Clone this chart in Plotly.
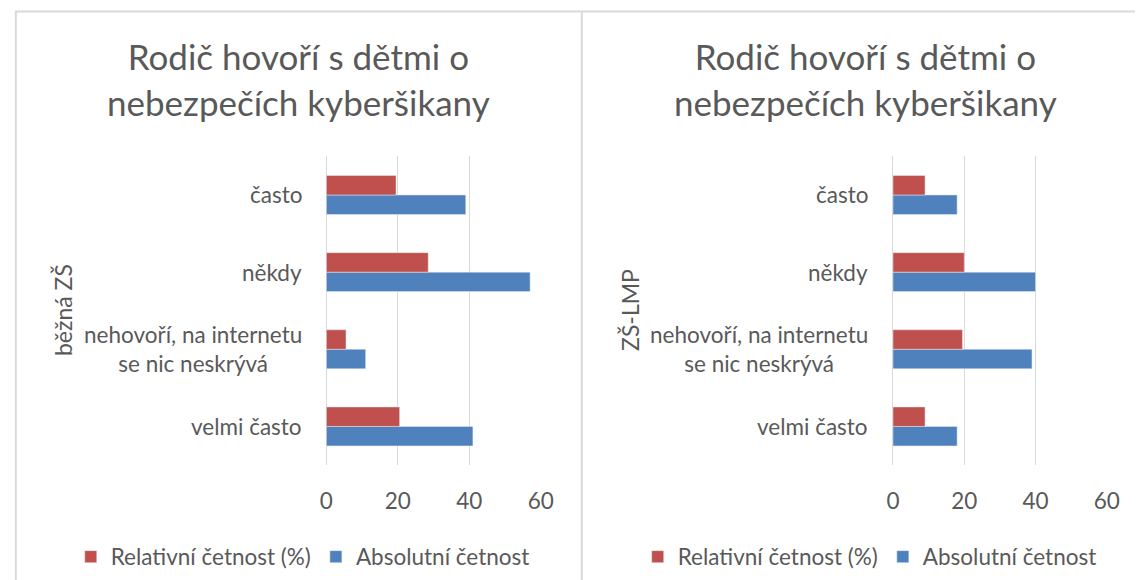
import plotly.graph_objects as go

# ---- data ----
categories = ["velmi často", "nehovoří, na internetu<br>se nic neskrývá", "někdy", "často"]
series_names = ["Relativní četnost (%)", "Absolutní četnost"]
bezna_relativni = [20.5, 5.5, 28.5, 19.5]
bezna_absolutni = [41, 11, 57, 39]
lmp_relativni = [9, 19.5, 20, 9]
lmp_absolutni = [18, 39, 40, 18]
panel_titles = ["Rodič hovoří s dětmi o<br>nebezpečích kyberšikany",
                "Rodič hovoří s dětmi o<br>nebezpečích kyberšikany"]
panel_axis_titles = ["běžná ZŠ", "ZŠ-LMP"]
x_ticks = [0, 20, 40, 60]

RED = "#C0504D"
BLUE = "#4F81BD"
TXT = "#595959"
GRID = "#D9D9D9"
FONT = "Lato"

W, H = 1148, 580


def px(rx):
    return rx / W


def py(ry):
    return 1 - ry / H


fig = go.Figure()

# left panel
fig.add_trace(go.Bar(y=categories, x=bezna_absolutni, orientation="h", name=series_names[1],
                     marker=dict(color=BLUE), xaxis="x", yaxis="y", legend="legend", legendrank=2))
fig.add_trace(go.Bar(y=categories, x=bezna_relativni, orientation="h", name=series_names[0],
                     marker=dict(color=RED), xaxis="x", yaxis="y", legend="legend", legendrank=1))
# right panel
fig.add_trace(go.Bar(y=categories, x=lmp_absolutni, orientation="h", name=series_names[1],
                     marker=dict(color=BLUE), xaxis="x2", yaxis="y2", legend="legend2", legendrank=2))
fig.add_trace(go.Bar(y=categories, x=lmp_relativni, orientation="h", name=series_names[0],
                     marker=dict(color=RED), xaxis="x2", yaxis="y2", legend="legend2", legendrank=1))

ydom = [py(465), py(156.4)]
xaxis_common = dict(range=[0, 60], tickvals=x_ticks, showgrid=True, gridcolor=GRID, gridwidth=1,
                    zeroline=True, zerolinecolor=GRID, zerolinewidth=1, showline=False,
                    ticks="", ticklabelstandoff=20,
                    tickfont=dict(family=FONT, size=22.5, color=TXT), fixedrange=True)
yaxis_common = dict(type="category", categoryorder="array", categoryarray=categories,
                    showticklabels=False, showgrid=False, zeroline=False, showline=False,
                    ticks="", domain=ydom, fixedrange=True)

legend_common = dict(orientation="h", yanchor="middle", xanchor="center", y=py(557),
                     font=dict(family=FONT, size=22.5, color=TXT), bgcolor="rgba(0,0,0,0)",
                     itemwidth=30, traceorder="normal")

annotations = []
panels = [
    dict(xref="x", yref="y", title_x=297, axt_x=57, lab_x=-0.105),
    dict(xref="x2", yref="y2", title_x=874, axt_x=634, lab_x=-0.109),
]
for i, p in enumerate(panels):
    annotations.append(dict(text=panel_titles[i], x=px(p["title_x"]), y=py(79), xref="paper", yref="paper",
                            xanchor="center", yanchor="middle", showarrow=False, align="center",
                            font=dict(family=FONT, size=35, color=TXT)))
    annotations.append(dict(text=panel_axis_titles[i], x=px(p["axt_x"]), y=py(310), xref="paper",
                            yref="paper", xanchor="center", yanchor="middle", showarrow=False,
                            textangle=-90, font=dict(family=FONT, size=23, color=TXT)))
    for c in categories:
        annotations.append(dict(text=c, x=p["lab_x"], y=c, xref=p["xref"] + " domain", yref=p["yref"],
                                xanchor="right", yanchor="middle", showarrow=False, align="center",
                                font=dict(family=FONT, size=22.5, color=TXT)))

shapes = [
    dict(type="line", xref="paper", yref="paper", x0=px(9), x1=px(9), y0=0, y1=py(11.5),
         line=dict(color=GRID, width=2)),
    dict(type="line", xref="paper", yref="paper", x0=px(585), x1=px(585), y0=0, y1=py(11.5),
         line=dict(color=GRID, width=2)),
    dict(type="line", xref="paper", yref="paper", x0=px(8), x1=1, y0=py(11.5), y1=py(11.5),
         line=dict(color=GRID, width=2)),
]

fig.update_layout(
    width=W, height=H, margin=dict(l=0, r=0, t=0, b=0),
    paper_bgcolor="white", plot_bgcolor="white",
    barmode="group", bargap=0.495, bargroupgap=0,
    xaxis=dict(domain=[px(325), px(543.3)], anchor="y", **xaxis_common),
    yaxis=dict(anchor="x", **yaxis_common),
    xaxis2=dict(domain=[px(901.7), px(1119.3)], anchor="y2", **xaxis_common),
    yaxis2=dict(anchor="x2", **yaxis_common),
    legend=dict(x=px(301), **legend_common),
    legend2=dict(x=px(878), **legend_common),
    annotations=annotations,
    shapes=shapes,
    font=dict(family=FONT, color=TXT),
    hovermode=False,
)

# remove the browser's default page margin so the 1148x580 figure fills the window exactly
fig.write_html("out.html", config={"displayModeBar": False},
               post_script="document.body.style.margin='0';")
